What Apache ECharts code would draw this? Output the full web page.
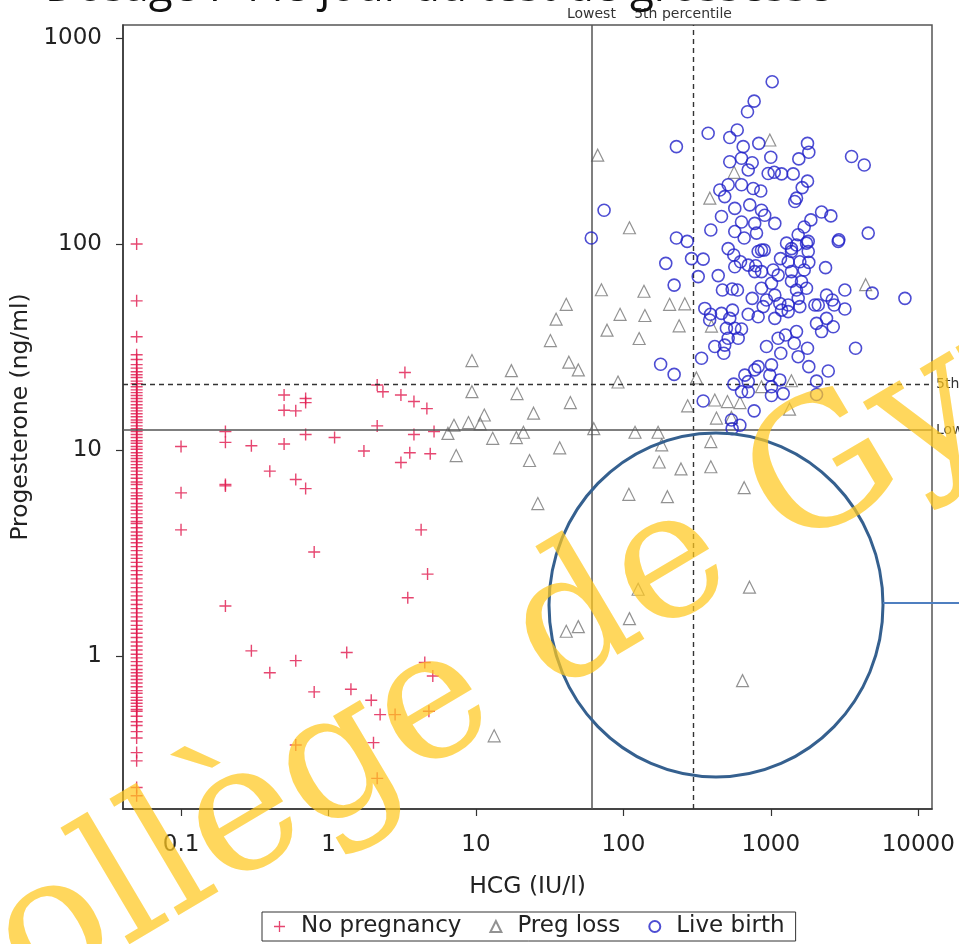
<!DOCTYPE html>
<html>
<head>
<meta charset="utf-8">
<title>P4 vs HCG</title>
<script src="https://cdn.jsdelivr.net/npm/echarts@6.0.0/dist/echarts.min.js"></script>
<style>
  html, body { margin: 0; padding: 0; background: #fff; }
  #chart { width: 959px; height: 944px; }
</style>
</head>
<body>
<div id="chart"></div>
<script>
// ---- data (HCG in IU/l, progesterone in ng/ml) ----
var xTicks = [0.1, 1, 10, 100, 1000, 10000];
var yTicks = [1, 10, 100, 1000];

// HCG below detection is plotted at 0.05
var hcgFloor = 0.05;
var noPregColumnP4 = [100, 53, 35.5, 29, 27.5, 26, 25, 24, 23.2, 22.5, 21.6, 21, 20.3, 19.6, 19, 18.4,
  17.8, 17.2, 16.6, 16, 15.5, 15, 14.5, 14, 13.6, 13.1, 12.7, 12.3, 11.9, 11.5, 11.1, 10.8, 10.4, 10.1,
  9.7, 9.4, 9.1, 8.8, 8.5, 8.2, 7.9, 7.6, 7.3, 7.0, 6.8, 6.5, 6.2, 6.0, 5.8, 5.5, 5.3, 5.1, 4.9, 4.7,
  4.5, 4.4, 4.2, 4.0, 3.85, 3.7, 3.55, 3.4, 3.25, 3.1, 2.98, 2.85, 2.72, 2.6, 2.48, 2.37, 2.26, 2.15,
  2.05, 1.96, 1.87, 1.78, 1.7, 1.62, 1.55, 1.48, 1.41, 1.35, 1.29, 1.23, 1.17, 1.12, 1.07, 1.02, 0.98,
  0.94, 0.9, 0.86, 0.83, 0.8, 0.77, 0.74, 0.71, 0.68, 0.66, 0.63, 0.61, 0.59, 0.57, 0.55, 0.54, 0.51,
  0.48, 0.46, 0.43, 0.4, 0.34, 0.31, 0.23, 0.21];

var noPregnancy = [
  [0.1, 10.4], [0.1, 6.2], [0.1, 4.1],
  [0.2, 12.3], [0.2, 10.9], [0.2, 6.8], [0.2, 6.7], [0.2, 1.75],
  [0.3, 10.5], [0.3, 1.06], [0.4, 7.9], [0.4, 0.83],
  [0.5, 18.5], [0.5, 15.6], [0.5, 10.7],
  [0.6, 15.5], [0.6, 7.2], [0.6, 0.95], [0.6, 0.37],
  [0.7, 17.8], [0.7, 17.0], [0.7, 11.9], [0.7, 6.5],
  [0.8, 3.2], [0.8, 0.67],
  [1.1, 11.5], [1.33, 1.04], [1.42, 0.69], [1.74, 9.9], [1.95, 0.61],
  [2.14, 20.7], [2.34, 19.2], [2.14, 13.1], [2.02, 0.38], [2.14, 0.255], [2.24, 0.52], [2.83, 0.52],
  [3.3, 23.8], [3.1, 18.5], [3.8, 17.2], [4.65, 15.9], [3.8, 11.9], [5.2, 12.3], [3.56, 9.7],
  [3.1, 8.7], [4.9, 9.6], [4.25, 4.1], [4.7, 2.5], [3.45, 1.92], [4.5, 0.93], [5.1, 0.8], [4.8, 0.54]
];

var pregLoss = [
  [67, 270], [110, 120], [985, 320], [564, 223], [386, 167],
  [71, 60], [138, 59], [4400, 63.5], [41, 51], [95, 45.6], [140, 45], [206, 51], [261, 51.3],
  [35, 43.2], [77.5, 38.2], [239, 40.1], [128, 34.8], [32, 34], [396, 40],
  [9.4, 27.2], [17.4, 24.3], [42.7, 26.7], [49.5, 24.5], [9.4, 19.2], [19, 18.8], [92, 21.4],
  [313, 22.4], [43.7, 17], [24.6, 15.1], [11.4, 14.8], [273, 16.4],
  [7.1, 13.2], [8.9, 13.6], [10.7, 13.4], [6.46, 12.05], [13, 11.4], [18.8, 11.5], [21, 12.2],
  [63, 12.7], [120, 12.2], [172, 12.2], [182, 10.6], [37, 10.25], [7.35, 9.4], [23.1, 8.9],
  [175, 8.75], [246, 8.1],
  [417, 17.5], [508, 17.2], [618, 17], [428, 14.3], [541, 14.4], [1340, 15.8], [1380, 21.7],
  [865, 20.3], [392, 11], [392, 8.3],
  [109, 6.1], [199, 5.94], [660, 6.57], [26.3, 5.5], [126, 2.11], [110, 1.52], [41, 1.32],
  [49.5, 1.39], [717, 2.16], [643, 0.76], [13.3, 0.41]
];

var liveBirth = [
  [1022, 614], [771, 494], [695, 439], [376, 345], [592, 358], [527, 329], [229, 297], [650, 297],
  [829, 308], [1774, 308], [1811, 279], [1000, 264], [1549, 259], [3530, 266], [4303, 242],
  [527, 251], [633, 261], [748, 248], [703, 229], [960, 220], [1183, 219], [1419, 219], [1055, 223],
  [74, 146], [60.6, 107], [229, 107], [271, 103],
  [451, 183], [514, 194], [633, 194], [760, 186], [855, 181], [1774, 202], [1633, 188], [1494, 167],
  [1455, 161], [487, 170], [570, 149], [720, 155], [865, 146], [463, 136], [633, 128], [778, 126],
  [910, 138], [1065, 126], [570, 115], [660, 107], [800, 113], [392, 117], [2210, 143], [2555, 137],
  [1870, 131], [1685, 121], [1534, 111], [1794, 103], [2895, 105], [4580, 113],
  [514, 95], [865, 93.5], [1381, 95], [1279, 101], [194, 80.6], [290, 85], [348, 84.5], [561, 88.5],
  [623, 82], [570, 77.6], [703, 79], [821, 92], [902, 93.5], [791, 78.5], [778, 73.5], [865, 73.5],
  [1038, 74.8], [1164, 85], [1381, 92], [1494, 99], [1747, 101], [1794, 92], [1312, 82], [1574, 82],
  [1811, 81.5], [1381, 73.5], [1685, 74.8], [1122, 70.7], [1615, 65.7], [1381, 66.1], [1747, 61],
  [1494, 59.8], [2352, 76.8], [2869, 103],
  [322, 69.5], [440, 70.3], [221, 63.2], [470, 59.8], [547, 60.5], [594, 59.8], [748, 54.5],
  [865, 61], [935, 53.5], [1065, 56.5], [1011, 64.5], [1151, 51.5], [1312, 50.6], [1534, 54.5],
  [1574, 49.7], [1991, 50.6], [2388, 56.5], [2610, 53.5], [2693, 50.6], [3180, 59.8], [3180, 48.4],
  [4875, 57.8], [8125, 54.5], [2099, 50.6],
  [357, 48.7], [390, 45.6], [385, 42.8], [463, 46.1], [527, 43.6], [550, 47.8], [703, 45.6],
  [821, 44.4], [888, 49.7], [1065, 43.6], [1183, 47.8], [1312, 47], [2043, 41.2], [2388, 43.6],
  [2652, 39.7], [2210, 37.6], [500, 39], [570, 39], [633, 38.7], [514, 34.9], [601, 34.9],
  [417, 31.8], [487, 32.3], [480, 29.5], [935, 31.8], [1122, 34.9], [1259, 36.2], [1494, 37.6],
  [1169, 29.5], [1442, 33], [1774, 31.2], [1534, 28.4], [3757, 31.2],
  [179, 26.1], [221, 23.3], [339, 27.9], [667, 23.1], [778, 24.5], [821, 25.4], [1011, 25.9],
  [985, 23.1], [1151, 21.9], [1811, 25.4], [2453, 24.2], [2043, 21.6], [561, 20.9], [703, 21.5],
  [703, 19.2], [633, 19.2], [1011, 20.3], [1214, 18.8], [1011, 18.4], [2043, 18.6], [348, 17.3],
  [771, 15.5], [541, 14.0], [617, 13.2], [547, 12.7]
];

// reference cut-offs
var hcgLowest = 60.7, hcgP5 = 297;
var p4Lowest = 12.5, p4P5 = 20.8;

// ---- chart ----
var font = 'DejaVu Sans';
var myChart = echarts.init(document.getElementById('chart'));

var noPregAll = noPregnancy.concat(noPregColumnP4.map(function (v) { return [hcgFloor, v]; }));

function tickText(v) {
  return String(+Number(v).toPrecision(3));
}

var option = {
  animation: false,
  backgroundColor: '#fff',
  grid: {
    left: 123, right: 27, top: 25, bottom: 135,
    show: true, borderColor: '#555', borderWidth: 1.5,
    outerBoundsMode: 'none'
  },
  legend: {
    data: ['No pregnancy', 'Preg loss', 'Live birth'],
    top: 912,
    left: 262,
    padding: [3, 11, 3, 12],
    itemGap: 28,
    itemWidth: 11,
    itemHeight: 11,
    borderColor: '#333',
    borderWidth: 1,
    textStyle: { fontFamily: font, fontSize: 23, color: '#222', padding: [0, 0, 0, 11] }
  },
  xAxis: {
    type: 'log', logBase: 10, min: 0.0404, max: 12400,
    name: 'HCG (IU/l)', nameLocation: 'middle', nameGap: 66,
    nameTextStyle: { fontFamily: font, fontSize: 23.5, color: '#222' },
    axisLine: { lineStyle: { color: '#333', width: 1.5 } },
    axisTick: { length: 7, customValues: xTicks, lineStyle: { color: '#333', width: 1.2 } },
    axisLabel: { customValues: xTicks, margin: 25, fontFamily: font, fontSize: 23, color: '#222', formatter: tickText },
    splitLine: { show: false }
  },
  yAxis: {
    type: 'log', logBase: 10, min: 0.181, max: 1157,
    name: 'Progesterone (ng/ml)', nameLocation: 'middle', nameGap: 89,
    nameTextStyle: { fontFamily: font, fontSize: 23.4, color: '#222' },
    axisLine: { lineStyle: { color: '#333', width: 1.5 } },
    axisTick: { length: 7, customValues: yTicks, lineStyle: { color: '#333', width: 1.2 } },
    axisLabel: { customValues: yTicks, margin: 21, fontFamily: font, fontSize: 23, color: '#222', formatter: tickText },
    splitLine: { show: false }
  },
  series: [
    {
      name: 'No pregnancy', type: 'scatter', data: noPregAll,
      symbol: 'path://M0,5.3H12V6.7H0Z M5.3,0H6.7V12H5.3Z', symbolSize: 12,
      itemStyle: { color: '#e0184c' }, z: 3
    },
    {
      name: 'Preg loss', type: 'scatter', data: pregLoss,
      symbol: 'triangle', symbolSize: 12,
      itemStyle: { color: 'rgba(0,0,0,0)', borderColor: '#777', borderWidth: 1.2 }, z: 4
    },
    {
      name: 'Live birth', type: 'scatter', data: liveBirth,
      symbol: 'circle', symbolSize: 12,
      itemStyle: { color: 'rgba(0,0,0,0)', borderColor: '#2020c8', borderWidth: 1.6 }, z: 5
    },
    {
      name: 'refs', type: 'scatter', data: [],
      markLine: {
        silent: true, symbol: 'none', animation: false,
        label: { fontFamily: font, fontSize: 14, color: '#333', position: 'end', distance: 4 },
        data: [
          { xAxis: hcgLowest, lineStyle: { color: '#555', width: 1.5, type: 'solid' }, label: { formatter: 'Lowest' } },
          { xAxis: hcgP5, lineStyle: { color: '#333', width: 1.4, type: [5, 4] }, label: { formatter: '5th percentile', offset: [-10, 0] } },
          { yAxis: p4Lowest, lineStyle: { color: '#555', width: 1.5, type: 'solid' }, label: { formatter: 'Lowest' } },
          { yAxis: p4P5, lineStyle: { color: '#333', width: 1.4, type: [5, 4] }, label: { formatter: '5th percentile' } }
        ]
      }
    }
  ],
  graphic: [
    {
      type: 'text', x: 45, y: -12, z: 50,
      style: { text: 'Dosage P4 le jour du test de grossesse', font: '44px "Open Sans"', fill: '#111', verticalAlign: 'middle' }
    },
    {
      type: 'ellipse', z: 60, silent: true,
      shape: { cx: 716, cy: 605, rx: 167, ry: 172 },
      style: { fill: 'none', stroke: '#35608f', lineWidth: 3 }
    },
    {
      type: 'line', z: 60, silent: true,
      shape: { x1: 883, y1: 603, x2: 959, y2: 603 },
      style: { stroke: '#4f7fc0', lineWidth: 2 }
    },
    {
      type: 'text', x: -108, y: 1031, rotation: 0.535, z: 70, silent: true,
      style: { text: 'Collège de Gynécologie', font: '178px "DejaVu Serif"', fill: 'rgba(255,200,30,0.72)', verticalAlign: 'middle' }
    }
  ]
};

myChart.setOption(option);
</script>
</body>
</html>
